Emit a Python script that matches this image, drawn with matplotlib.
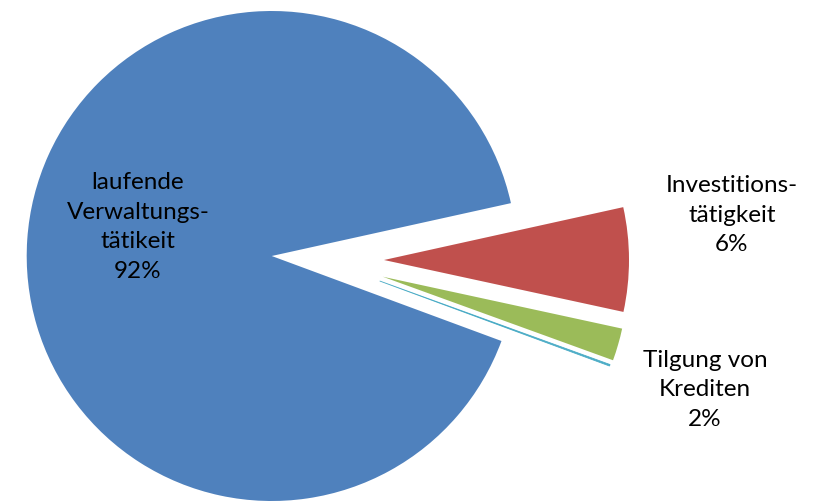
import matplotlib
matplotlib.use("Agg")
import matplotlib.pyplot as plt
import numpy as np

# ---- data ----
categories = ["laufende Verwaltungstätikeit", "Investitionstätigkeit", "Tilgung von Krediten", ""]
shares = [90.9, 6.86, 2.14, 0.10]          # slice sizes as drawn
label_lines = [["laufende", "Verwaltungs-", "tätikeit", "92%"],
               ["Investitions-", "tätigkeit", "6%"],
               ["Tilgung von", "Krediten", "2%"]]

# ---- style ----
colors = ["#4F81BD", "#C0504D", "#9BBB59", "#4BACC6"]
W, H = 813, 501
center = (271.7, 245.0)
radius = 245.0
# explode offsets (dx, dy) in pixels for each slice
offsets = [(0, 0), (112.3, -4.0), (111.0, -20.7), (108.0, -25.0)]
label_pos = [(138, 501 - 227), (732, 501 - 215), (705, 501 - 390)]
FONT = ["Lato", "DejaVu Sans"]
fs = 17.5
spacing = 1.52

fig = plt.figure(figsize=(W / 100, H / 100), dpi=100)
ax = fig.add_axes([0, 0, 1, 1])

wedges, _ = ax.pie(shares, colors=colors, startangle=-20.3, counterclock=False,
                   center=center, radius=radius, frame=True,
                   wedgeprops=dict(linewidth=0, antialiased=True))
for w, (dx, dy) in zip(wedges, offsets):
    w.set_center((center[0] + dx, center[1] + dy))
wedges[3].set_edgecolor(colors[3])
wedges[3].set_linewidth(0.6)

ax.set_xlim(0, W)
ax.set_ylim(0, H)
ax.set_aspect("equal")
ax.axis("off")

for lines, (x, y) in zip(label_lines, label_pos):
    ax.text(x, y, "\n".join(lines), ha="center", va="center", multialignment="center",
            fontsize=fs, family=FONT, color="#000000", linespacing=spacing)

fig.savefig("out.png", dpi=100)
